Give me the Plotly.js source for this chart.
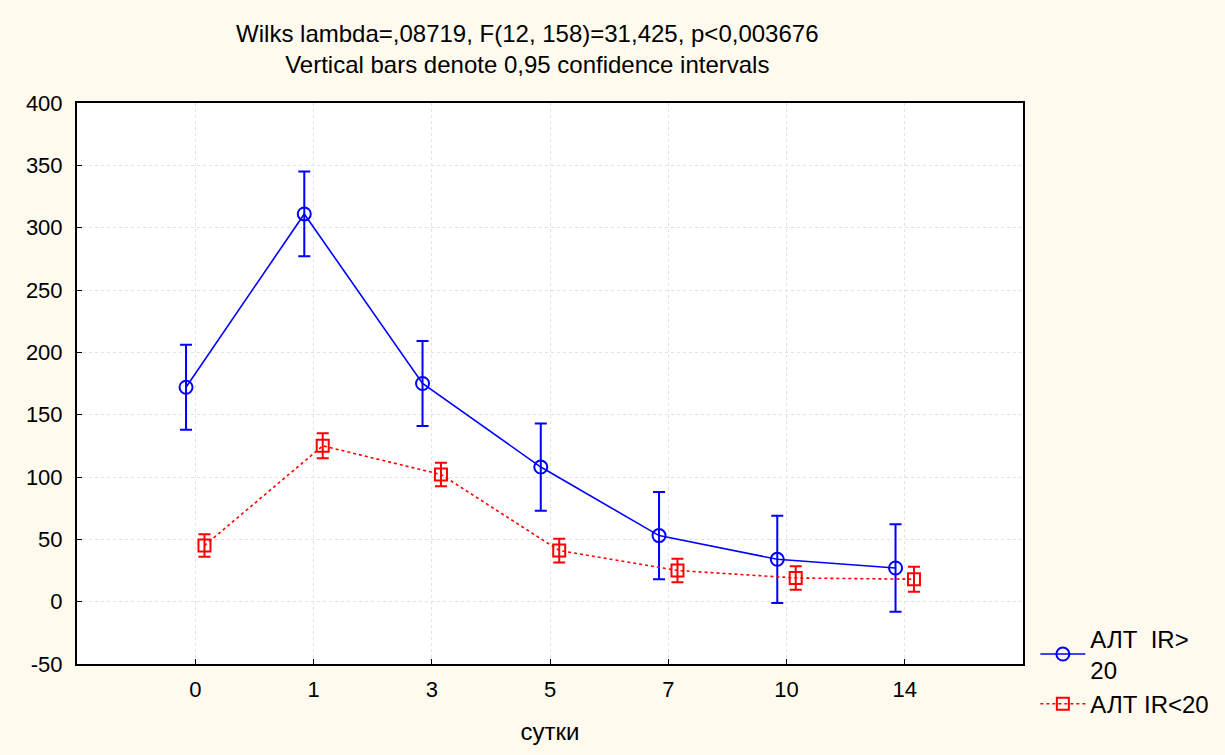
<!DOCTYPE html>
<html><head><meta charset="utf-8">
<script src="https://cdn.plot.ly/plotly-3.0.1.min.js"></script>
<style>html,body{margin:0;padding:0;background:#FFFAEE;}#chart{width:1225px;height:755px;}</style>
</head><body><div id="chart"></div>
<script>
const categories = ["0","1","3","5","7","10","14"];
const blueMean = [172, 311, 175, 108, 53, 34, 27];
const blueErr  = [34, 34, 34, 35, 35, 35, 35];
const redMean  = [45, 125, 102, 41, 25, 19, 18];
const redErr   = [9, 10, 9.5, 9.5, 9.5, 9.5, 10];
const blueName = "АЛТ  IR><br>20";
const redName = "АЛТ IR<20";
const yTicks = [-50, 0, 50, 100, 150, 200, 250, 300, 350, 400];
const yTickText = ["-50", "0", "50", "100", "150", "200", "250", "300", "350", "400"];

const idx = categories.map((c,i)=>i);
const off = 0.078;
const fam = "Liberation Sans, Arial, sans-serif";
const tickFont = {family: fam, size: 22, color: "#000"};
const bigFont = {family: fam, size: 24, color: "#000"};

const traces = [
  {x: idx.map(i=>i-off), y: blueMean, name: blueName, type: "scatter", mode: "lines+markers",
   line: {color: "#0000FF", width: 1.6},
   marker: {symbol: "circle-open", size: 13, color: "#0000FF", line: {width: 2, color: "#0000FF"}},
   error_y: {type: "data", array: blueErr, visible: true, color: "#0000FF", thickness: 2, width: 6}},
  {x: idx.map(i=>i+off), y: redMean, name: redName, type: "scatter", mode: "lines+markers",
   line: {color: "#FF0000", width: 1.6, dash: "dot"},
   marker: {symbol: "square-open", size: 12, color: "#FF0000", line: {width: 2, color: "#FF0000"}},
   error_y: {type: "data", array: redErr, visible: true, color: "#FF0000", thickness: 2, width: 6}}
];

const layout = {
  width: 1225, height: 755,
  paper_bgcolor: "#FFFAEE", plot_bgcolor: "#FFFFFF",
  margin: {l: 77, r: 201, t: 103, b: 91},
  font: tickFont,
  title: {text: "Wilks lambda=,08719, F(12, 158)=31,425, p<0,003676<br>Vertical bars denote 0,95 confidence intervals",
          x: 0.476, xref: "paper", xanchor: "center", y: 0.944, yanchor: "top", font: {family: fam, size: 24, color: "#000"}},
  xaxis: {range: [-1, 7], tickvals: idx, ticktext: categories, ticks: "inside", ticklen: 5, tickcolor: "#000",
          showline: true, linecolor: "#000", linewidth: 2, mirror: true, ticklabelstandoff: 5,
          showgrid: true, gridcolor: "#E2E2E2", griddash: "dot", gridwidth: 1, zeroline: false,
          title: {text: "сутки", font: bigFont, standoff: 22}, tickfont: tickFont},
  yaxis: {range: [-50, 400], tickvals: yTicks, ticktext: yTickText, ticks: "inside", ticklen: 5, tickcolor: "#000",
          showline: true, linecolor: "#000", linewidth: 2, mirror: true, ticklabelstandoff: 8,
          showgrid: true, gridcolor: "#E2E2E2", griddash: "dot", gridwidth: 1, zeroline: false,
          tickfont: tickFont},
  showlegend: true,
  legend: {x: 1.012, xanchor: "left", y: 0.085, yanchor: "top", bgcolor: "rgba(0,0,0,0)",
           font: bigFont, tracegroupgap: 0, itemwidth: 45}
};
Plotly.newPlot("chart", traces, layout, {displayModeBar: false});
</script></body></html>
